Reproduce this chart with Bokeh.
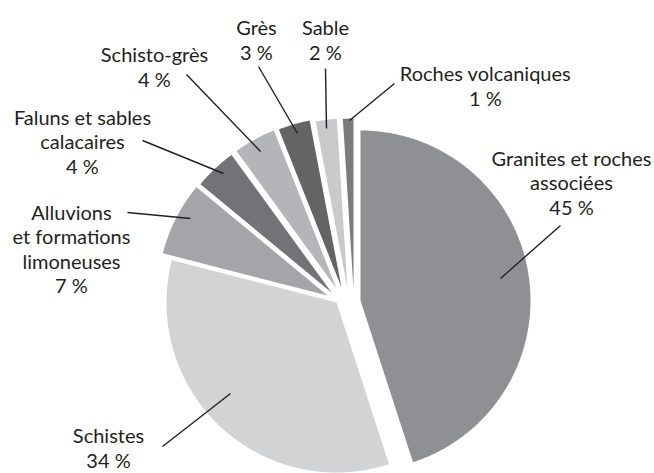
import numpy as np
from bokeh.plotting import figure
from bokeh.models import Range1d, ColumnDataSource
from bokeh.core.properties import value
from bokeh.embed import file_html
from bokeh.resources import INLINE

# ---- data ----
categories = ["Granites et roches\nassociées", "Schistes",
              "Alluvions\net formations\nlimoneuses", "Faluns et sables\ncalacaires",
              "Schisto-grès", "Grès", "Sable", "Roches volcaniques"]
shares = [45, 34, 7, 4, 4, 3, 2, 1]
colors = ["#8f9093", "#d1d3d4", "#a4a5a8", "#727376",
          "#b4b5b8", "#636466", "#c9cacc", "#7a7b7e"]

# ---- layout (page pixel coordinates) ----
CX, CY = 345, 295
R = 170
offsets = [(15, 5), (-9, 7), (-18, 0), (-14, -3), (-9, -7), (-4, -8), (2, -7), (8, -7)]
label_pos = [(571, 182), (108, 447), (71, 248), (82, 141),
             (154, 66), (256, 39), (325, 39), (485, 85)]
leader_start = [(560, 225), (162, 446), (127, 212), (142, 140),
                (186, 74), (258, 66), (325, 68), (394, 83)]
leader_end = [(500, 278), (230, 393), (190, 218), (223, 173),
              (260, 151), (297, 133), (326, 128), (349, 120)]

FONT = "Lato"
FONT_SIZE = "20px"
TEXT_COLOR = "#231f20"

p = figure(width=654, height=473, output_backend="svg", toolbar_location=None,
           x_range=Range1d(0, 654), y_range=Range1d(473, 0),
           min_border=0, outline_line_color=None, background_fill_color="white")
p.axis.visible = False
p.grid.visible = False

total = float(sum(shares))
bounds = np.concatenate([[0], np.cumsum(shares)]) / total * 2 * np.pi
xs, ys = [], []
for i in range(len(shares)):
    a0, a1 = bounds[i], bounds[i + 1]
    n = max(4, int(np.degrees(a1 - a0) * 2))
    th = np.linspace(a0, a1, n)
    ax = CX + offsets[i][0]
    ay = CY + offsets[i][1]
    px = np.concatenate([[ax], ax + R * np.sin(th)])
    py = np.concatenate([[ay], ay - R * np.cos(th)])
    xs.append(list(px))
    ys.append(list(py))

p.patches(xs=xs, ys=ys, fill_color=colors, line_color=None)

p.segment(x0=[s[0] for s in leader_start], y0=[s[1] for s in leader_start],
          x1=[e[0] for e in leader_end], y1=[e[1] for e in leader_end],
          line_color=TEXT_COLOR, line_width=1.4)

labels = [f"{c}\n{v} %" for c, v in zip(categories, shares)]
src = ColumnDataSource(dict(x=[l[0] for l in label_pos], y=[l[1] for l in label_pos], t=labels))
p.text(x="x", y="y", text="t", source=src, text_font=value(FONT), text_font_size=FONT_SIZE,
       text_color=TEXT_COLOR, text_align="center", text_baseline="middle",
       text_line_height=1.02)

open("out.html", "w").write(file_html(p, INLINE))
